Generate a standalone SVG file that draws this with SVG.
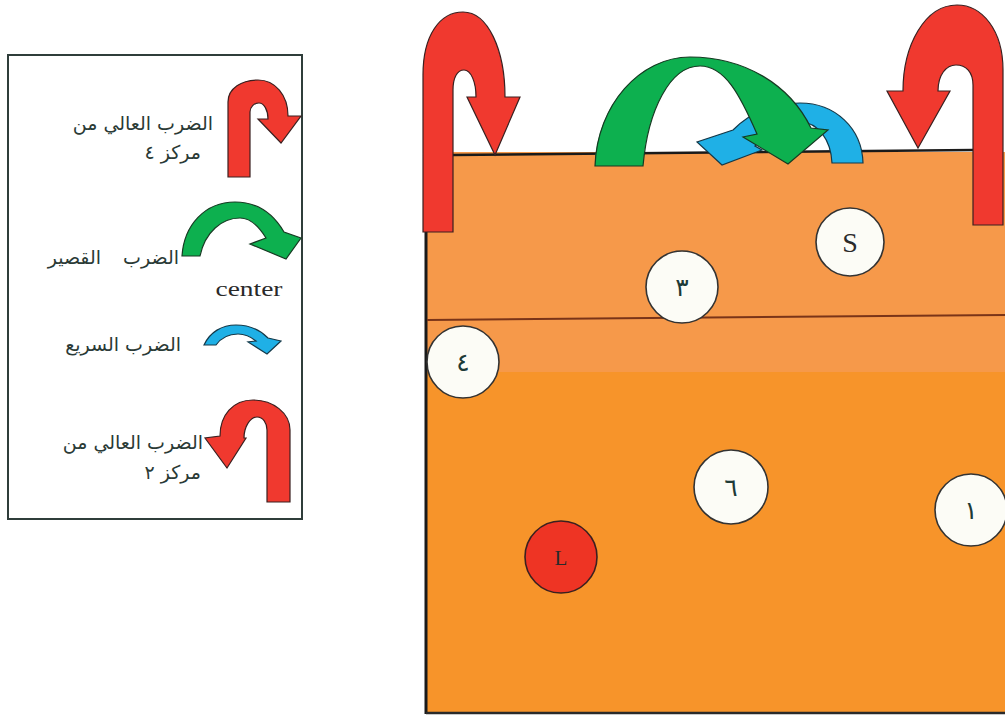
<svg xmlns="http://www.w3.org/2000/svg" width="1005" height="715" viewBox="0 0 1005 715">
<defs>
<style>
.ar{font-family:"DejaVu Sans","Noto Sans",sans-serif;font-size:19px;fill:#2a3a36;text-anchor:end}
.lat{font-family:"Liberation Serif",serif;fill:#2a2a2a;text-anchor:middle}
.red{fill:#F0392F;stroke:#3a2020;stroke-width:1.2}
.grn{fill:#0DB04F;stroke:#163a22;stroke-width:1.2}
.blu{fill:#1FB0E6;stroke:#143848;stroke-width:1.2}
.ball{fill:#FCFCF6;stroke:#333;stroke-width:1.6}
.num{font-family:"DejaVu Sans",sans-serif;font-size:25px;fill:#1d3a36;text-anchor:middle}
</style>
</defs>
<rect width="1005" height="715" fill="#ffffff"/>

<g id="legend">
<rect x="8" y="55" width="294" height="464" fill="#ffffff" stroke="#2f3d3a" stroke-width="2"/>
<path class="red" d="M228,177 L228,102 C228,88 242,80 258,80 C275,80 288,95 288,116 L301,116 L281,143 L258,119 L268,119 C268,110 264,103 259,103 C254,103 250,107 250,112 L250,177 Z"/>
<text class="ar" x="213" y="130">الضرب العالي من</text>
<text class="ar" x="201" y="159">مركز ٤</text>
<path class="grn" d="M182,256 C184,225 205,202 235,202 C258,202 274,215 284,232 L301,238 L286,259 L250,244 L266,238 C258,225 250,218 240,218 C222,218 205,232 200,256 Z"/>
<text class="ar" x="179" y="264" word-spacing="16">الضرب القصير</text>
<text class="lat" x="249" y="296" font-size="21" textLength="67" lengthAdjust="spacingAndGlyphs">center</text>
<path class="blu" d="M204,345 C210,332 222,325 236,325 C250,325 260,330 268,338 L281,341 L267,354 L248,342 L256,341 C250,336 244,334 238,334 C229,334 221,338 216,345 Z"/>
<text class="ar" x="181" y="351">الضرب السريع</text>
<path class="red" d="M290,502 L290,430 C290,413 273,400 253,400 C233,400 220,415 220,436 L205,438 L227,468 L246,438 L244,438 C244,427 250,417 257,417 C263,417 267,423 267,430 L267,502 Z"/>
<text class="ar" x="203" y="449">الضرب العالي من</text>
<text class="ar" x="201" y="479">مركز ٢</text>
</g>

<g id="court">
<rect x="426" y="152" width="579" height="220" fill="#F6994A"/>
<rect x="426" y="372" width="579" height="341" fill="#F7942A"/>
<line x1="452" y1="155" x2="974" y2="150" stroke="#1a1a1a" stroke-width="2.5"/>
<line x1="426" y1="152" x2="426" y2="714" stroke="#1a1a1a" stroke-width="3"/>
<line x1="426" y1="713" x2="1005" y2="713" stroke="#2a2a2a" stroke-width="2.5"/>
<line x1="427" y1="320" x2="1005" y2="315" stroke="#7a3418" stroke-width="2"/>
</g>

<g id="connectors">
<path id="blue-arrow" class="blu" d="M863,163 C862,128 835,103 800,103 C772,103 750,113 733,130 L697,142 L722,165 L762,150 L755,146 C768,132 784,122 800,122 C818,122 831,140 832,163 Z"/>
<path id="green-arrow" class="grn" d="M595,166 C597,105 640,57 690,57 C745,57 790,85 811,128 L828,130 L788,164 L743,137 L757,134 C740,95 725,66 700,66 C670,66 648,110 643,166 Z"/>
<path id="red-arrow-left" class="red" d="M423,232 L423,75 C423,35 440,12 463,12 C488,12 505,50 505,97 L520,97 L495,155 L467,97 L476,97 C476,82 471,70 464,70 C457,70 453,78 453,90 L453,232 Z"/>
<path id="red-arrow-right" class="red" d="M1003,225 L1003,70 C1003,30 982,5 957,5 C925,5 903,45 903,91 L887,91 L918,148 L950,91 L938,91 C938,75 946,65 956,65 C966,65 973,72 973,85 L973,225 Z"/>
</g>

<g id="player-S"><circle class="ball" cx="850" cy="242" r="34"/><text class="lat" x="850" y="252" font-size="28">S</text></g>
<g id="player-3"><circle class="ball" cx="682" cy="287" r="36"/><text class="num" x="682" y="296">٣</text></g>
<g id="player-4"><circle class="ball" cx="463" cy="362" r="36"/><text class="num" x="463" y="371">٤</text></g>
<g id="player-6"><circle class="ball" cx="731" cy="487" r="37"/><text class="num" x="731" y="496">٦</text></g>
<g id="player-1"><circle class="ball" cx="971" cy="510" r="36"/><text class="num" x="971" y="519">١</text></g>
<g id="player-L"><circle cx="561" cy="557" r="36" fill="#EE3424" stroke="#3a2020" stroke-width="1.6"/><text class="lat" x="561" y="565" font-size="21">L</text></g>
</svg>
